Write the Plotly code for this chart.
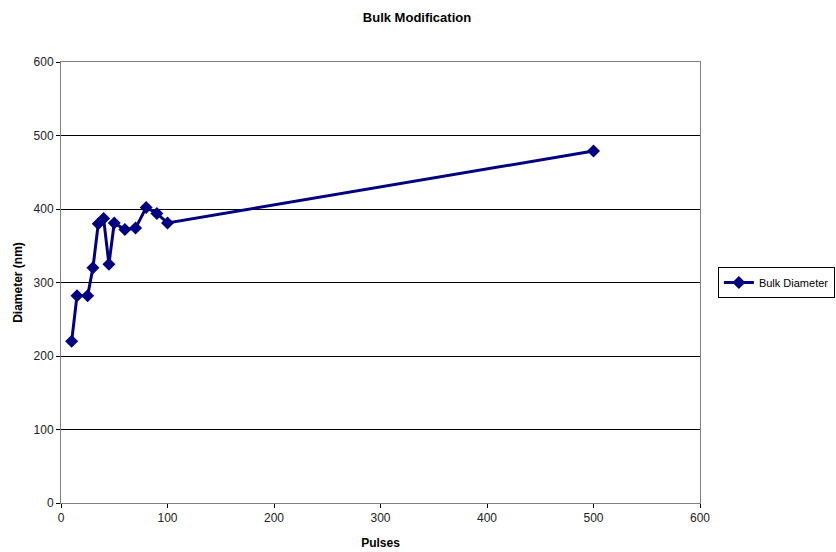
import plotly.graph_objects as go

pulses = [10, 15, 25, 30, 35, 40, 45, 50, 60, 70, 80, 90, 100, 500]
diameter = [220, 282, 282, 320, 380, 387, 325, 381, 372, 374, 402, 394, 381, 479]
x_ticks = [0, 100, 200, 300, 400, 500, 600]
y_ticks = [0, 100, 200, 300, 400, 500, 600]

fig = go.Figure()
fig.add_trace(go.Scatter(
    x=pulses, y=diameter, mode="lines+markers", name="Bulk Diameter",
    line=dict(color="#000080", width=3),
    marker=dict(symbol="diamond", size=10, color="#000080"),
))

font = "Liberation Sans, Arial, sans-serif"
fig.update_layout(
    width=836, height=552,
    margin=dict(l=61, r=136, t=62, b=49, autoexpand=False),
    paper_bgcolor="white", plot_bgcolor="white",
    font=dict(family=font, size=12, color="#222"),
    title=dict(text="<b>Bulk Modification</b>", x=417 / 836, xanchor="center",
               y=1 - 17 / 552, yanchor="middle", font=dict(size=13, color="#000")),
    showlegend=True,
    legend=dict(x=1.028, y=0.5, xanchor="left", yanchor="middle",
                bordercolor="#000", borderwidth=1, bgcolor="white",
                font=dict(size=11, color="#000"), itemwidth=30,
                tracegroupgap=0),
    xaxis=dict(range=[0, 600], tickvals=x_ticks, showgrid=False, zeroline=False,
               showline=True, linecolor="#808080", linewidth=1, mirror=True,
               ticks="outside", ticklen=4, tickcolor="#000", automargin=False,
               title=dict(text="<b>Pulses</b>", font=dict(size=12, color="#000"), standoff=14)),
    yaxis=dict(range=[0, 600], tickvals=y_ticks, showgrid=True, gridcolor="#000", gridwidth=1,
               zeroline=False, showline=True, linecolor="#808080", linewidth=1, mirror=True,
               ticks="outside", ticklen=4, tickcolor="#000", automargin=False,
               title=dict(text="<b>Diameter (nm)</b>", font=dict(size=12, color="#000"), standoff=8)),
)

fig.write_html("out.html", post_script="document.body.style.margin='0';",
               config={"displayModeBar": False})
